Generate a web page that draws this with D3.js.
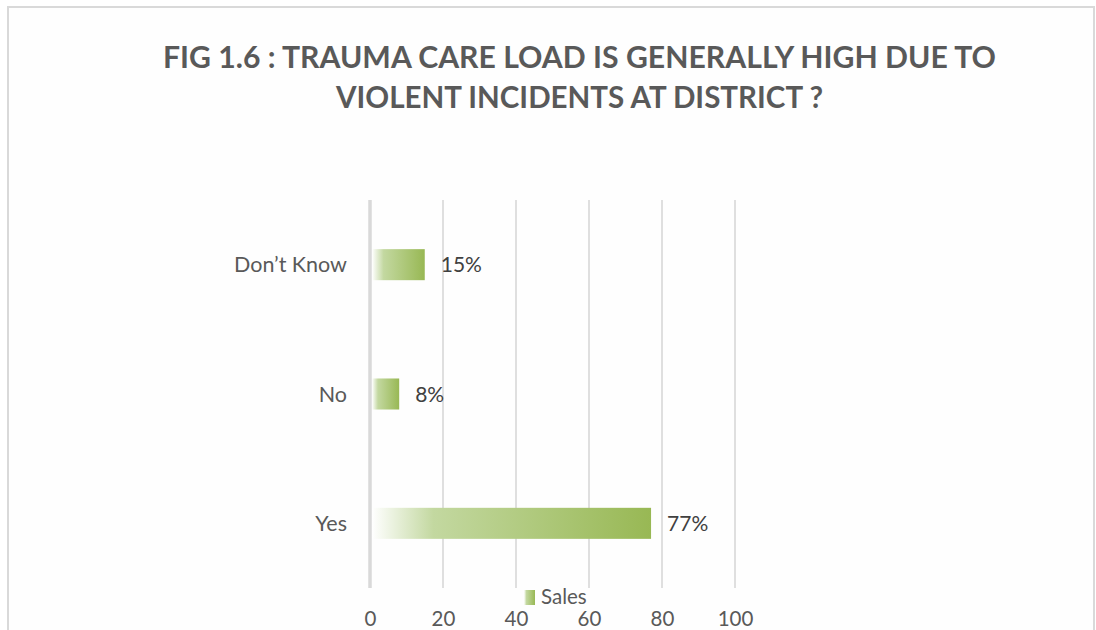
<!DOCTYPE html>
<html>
<head>
<meta charset="utf-8">
<script src="https://cdn.jsdelivr.net/npm/d3@7"></script>
<style>
  html, body { margin: 0; padding: 0; background: #ffffff; }
  svg { display: block; }
  text { font-family: Lato, "Open Sans", sans-serif; }
</style>
</head>
<body>
<svg id="chart" width="1096" height="630"></svg>
<script>
const titleLines = ["FIG 1.6 : TRAUMA CARE LOAD IS GENERALLY HIGH DUE TO", "VIOLENT INCIDENTS AT DISTRICT ?"];
const categories = ["Don\u2019t Know", "No", "Yes"];
const values = [15, 8, 77];
const valueLabels = ["15%", "8%", "77%"];
const tickValues = [0, 20, 40, 60, 80, 100];
const seriesName = "Sales";

const svg = d3.select("#chart");

// frame
svg.append("rect").attr("x", 8).attr("y", 7).attr("width", 1086).attr("height", 640)
  .attr("fill", "#fefefe").attr("stroke", "#d9d9d9").attr("stroke-width", 2);

// gradient
const defs = svg.append("defs");
const grad = defs.append("linearGradient").attr("id", "barGrad")
  .attr("x1", "0%").attr("x2", "100%").attr("y1", "0%").attr("y2", "0%");
grad.append("stop").attr("offset", "0%").attr("stop-color", "#ffffff");
grad.append("stop").attr("offset", "22%").attr("stop-color", "#c3d8a0");
grad.append("stop").attr("offset", "100%").attr("stop-color", "#98b854");

// title
const titleLens = [833, 487];
svg.append("g").selectAll("text").data(titleLines).join("text")
  .attr("x", 579.5).attr("y", (d, i) => 67.5 + i * 40)
  .attr("text-anchor", "middle")
  .attr("font-size", 31).attr("font-weight", 700).attr("fill", "#595959")
  .attr("textLength", (d, i) => titleLens[i]).attr("lengthAdjust", "spacingAndGlyphs")
  .text(d => d);

// scales
const x = d3.scaleLinear().domain([0, 100]).range([370, 735]);
const y = d3.scaleBand().domain(categories).range([200, 588]).paddingInner(0.76).paddingOuter(0.38);

// gridlines
svg.append("g").selectAll("line").data(tickValues).join("line")
  .attr("x1", d => x(d)).attr("x2", d => x(d))
  .attr("y1", 200).attr("y2", 588)
  .attr("stroke", d => d === 0 ? "#d9d9d9" : "#d4d4d4")
  .attr("stroke-width", d => d === 0 ? 3.5 : 1.5);

// bars
svg.append("g").selectAll("rect").data(categories).join("rect")
  .attr("x", x(0) + 2)
  .attr("y", d => y(d))
  .attr("width", (d, i) => x(values[i]) - x(0) - 2)
  .attr("height", y.bandwidth())
  .attr("fill", "url(#barGrad)");

// value labels
svg.append("g").selectAll("text").data(categories).join("text")
  .attr("x", (d, i) => x(values[i]) + 16)
  .attr("y", d => y(d) + y.bandwidth() / 2)
  .attr("dy", "0.36em")
  .attr("font-size", 21).attr("fill", "#404040")
  .text((d, i) => valueLabels[i]);

// category axis
const yAxis = d3.axisLeft(y).tickSize(0).tickPadding(0);
const gy = svg.append("g").attr("transform", "translate(347,0)").call(yAxis);
gy.select(".domain").remove();
gy.selectAll("text").attr("font-size", 21.5).attr("fill", "#595959")
  .attr("font-family", "Lato, 'Open Sans', sans-serif").attr("dy", "0.36em");

// x axis tick labels
const xAxis = d3.axisBottom(x).tickValues(tickValues).tickSize(0).tickPadding(0);
const gx = svg.append("g").attr("transform", "translate(0,611)").call(xAxis);
gx.select(".domain").remove();
gx.selectAll("text").attr("font-size", 20.5).attr("fill", "#595959")
  .attr("font-family", "Lato, 'Open Sans', sans-serif").attr("dy", "0.71em");

// legend
const leg = svg.append("g");
leg.append("rect").attr("x", 524).attr("y", 590).attr("width", 11).attr("height", 15).attr("fill", "url(#barGrad)");
leg.append("text").attr("x", 541).attr("y", 604).attr("font-size", 20.5).attr("fill", "#595959").text(seriesName);
</script>
</body>
</html>
